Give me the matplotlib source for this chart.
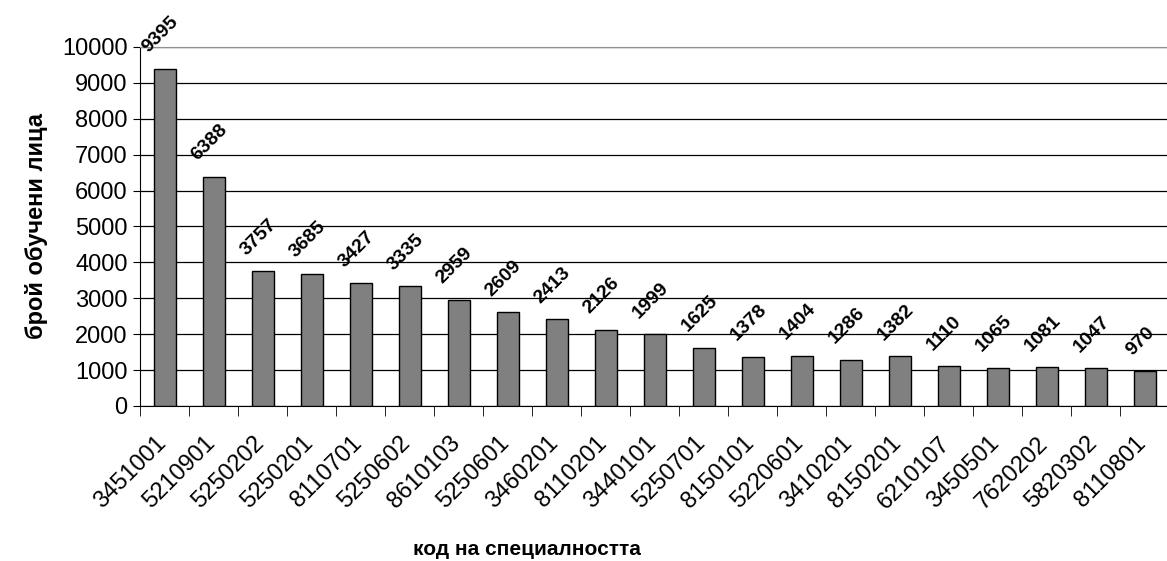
import numpy as np
import matplotlib.pyplot as plt
from matplotlib.transforms import ScaledTranslation

plt.rcParams['font.family'] = ['Liberation Sans', 'DejaVu Sans']

# кодове на специалностите и брой обучени лица
codes = ['3451001', '5210901', '5250202', '5250201', '8110701', '5250602', '8610103',
         '5250601', '3460201', '8110201', '3440101', '5250701', '8150101', '5220601',
         '3410201', '8150201', '6210107', '3450501', '7620202', '5820302', '8110801']
counts = [9395, 6388, 3757, 3685, 3427, 3335, 2959, 2609, 2413, 2126, 1999,
          1625, 1378, 1404, 1286, 1382, 1110, 1065, 1081, 1047, 970]

fig = plt.figure(figsize=(11.67, 5.61), dpi=100)
ax = fig.add_axes([0.12, 0.2763, 0.882, 0.64])

x = np.arange(len(codes))
ax.bar(x, counts, width=0.45, color='#808080', edgecolor='black', linewidth=1, zorder=3)

for xi, v in zip(x, counts):
    ax.annotate(str(v), (xi, v), xytext=(-3, 9), textcoords='offset points',
                ha='center', va='bottom', rotation=45, fontsize=14, fontweight='bold')

ax.set_xlim(-0.5, len(codes) - 0.5)
ax.set_ylim(0, 10000)
ax.set_yticks(np.arange(0, 10001, 1000))
ax.tick_params(axis='y', labelsize=17, length=5, direction='out', pad=4)
ax.grid(axis='y', color='black', linewidth=0.9, zorder=0)

# тикове между категориите, надписи в центъра
ax.set_xticks(x)
ax.set_xticklabels(codes, rotation=45, ha='right', va='top', rotation_mode='anchor', fontsize=17)
ax.tick_params(axis='x', length=0, pad=19)
shift = ScaledTranslation(-10 / 100, 0, fig.dpi_scale_trans)
for lbl in ax.get_xticklabels():
    lbl.set_transform(lbl.get_transform() + shift)
ax.set_xticks(np.arange(-0.5, len(codes), 1), minor=True)
ax.tick_params(axis='x', which='minor', length=7, direction='out')

ax.spines['top'].set_color('#909090')
ax.spines['right'].set_visible(False)

ax.set_ylabel('брой обучени лица', fontsize=17, fontweight='bold', labelpad=10)
ax.set_xlabel('код на специалността', fontsize=15, fontweight='bold')
ax.xaxis.set_label_coords(0.376, -0.372)

fig.savefig('out.png', dpi=100)
